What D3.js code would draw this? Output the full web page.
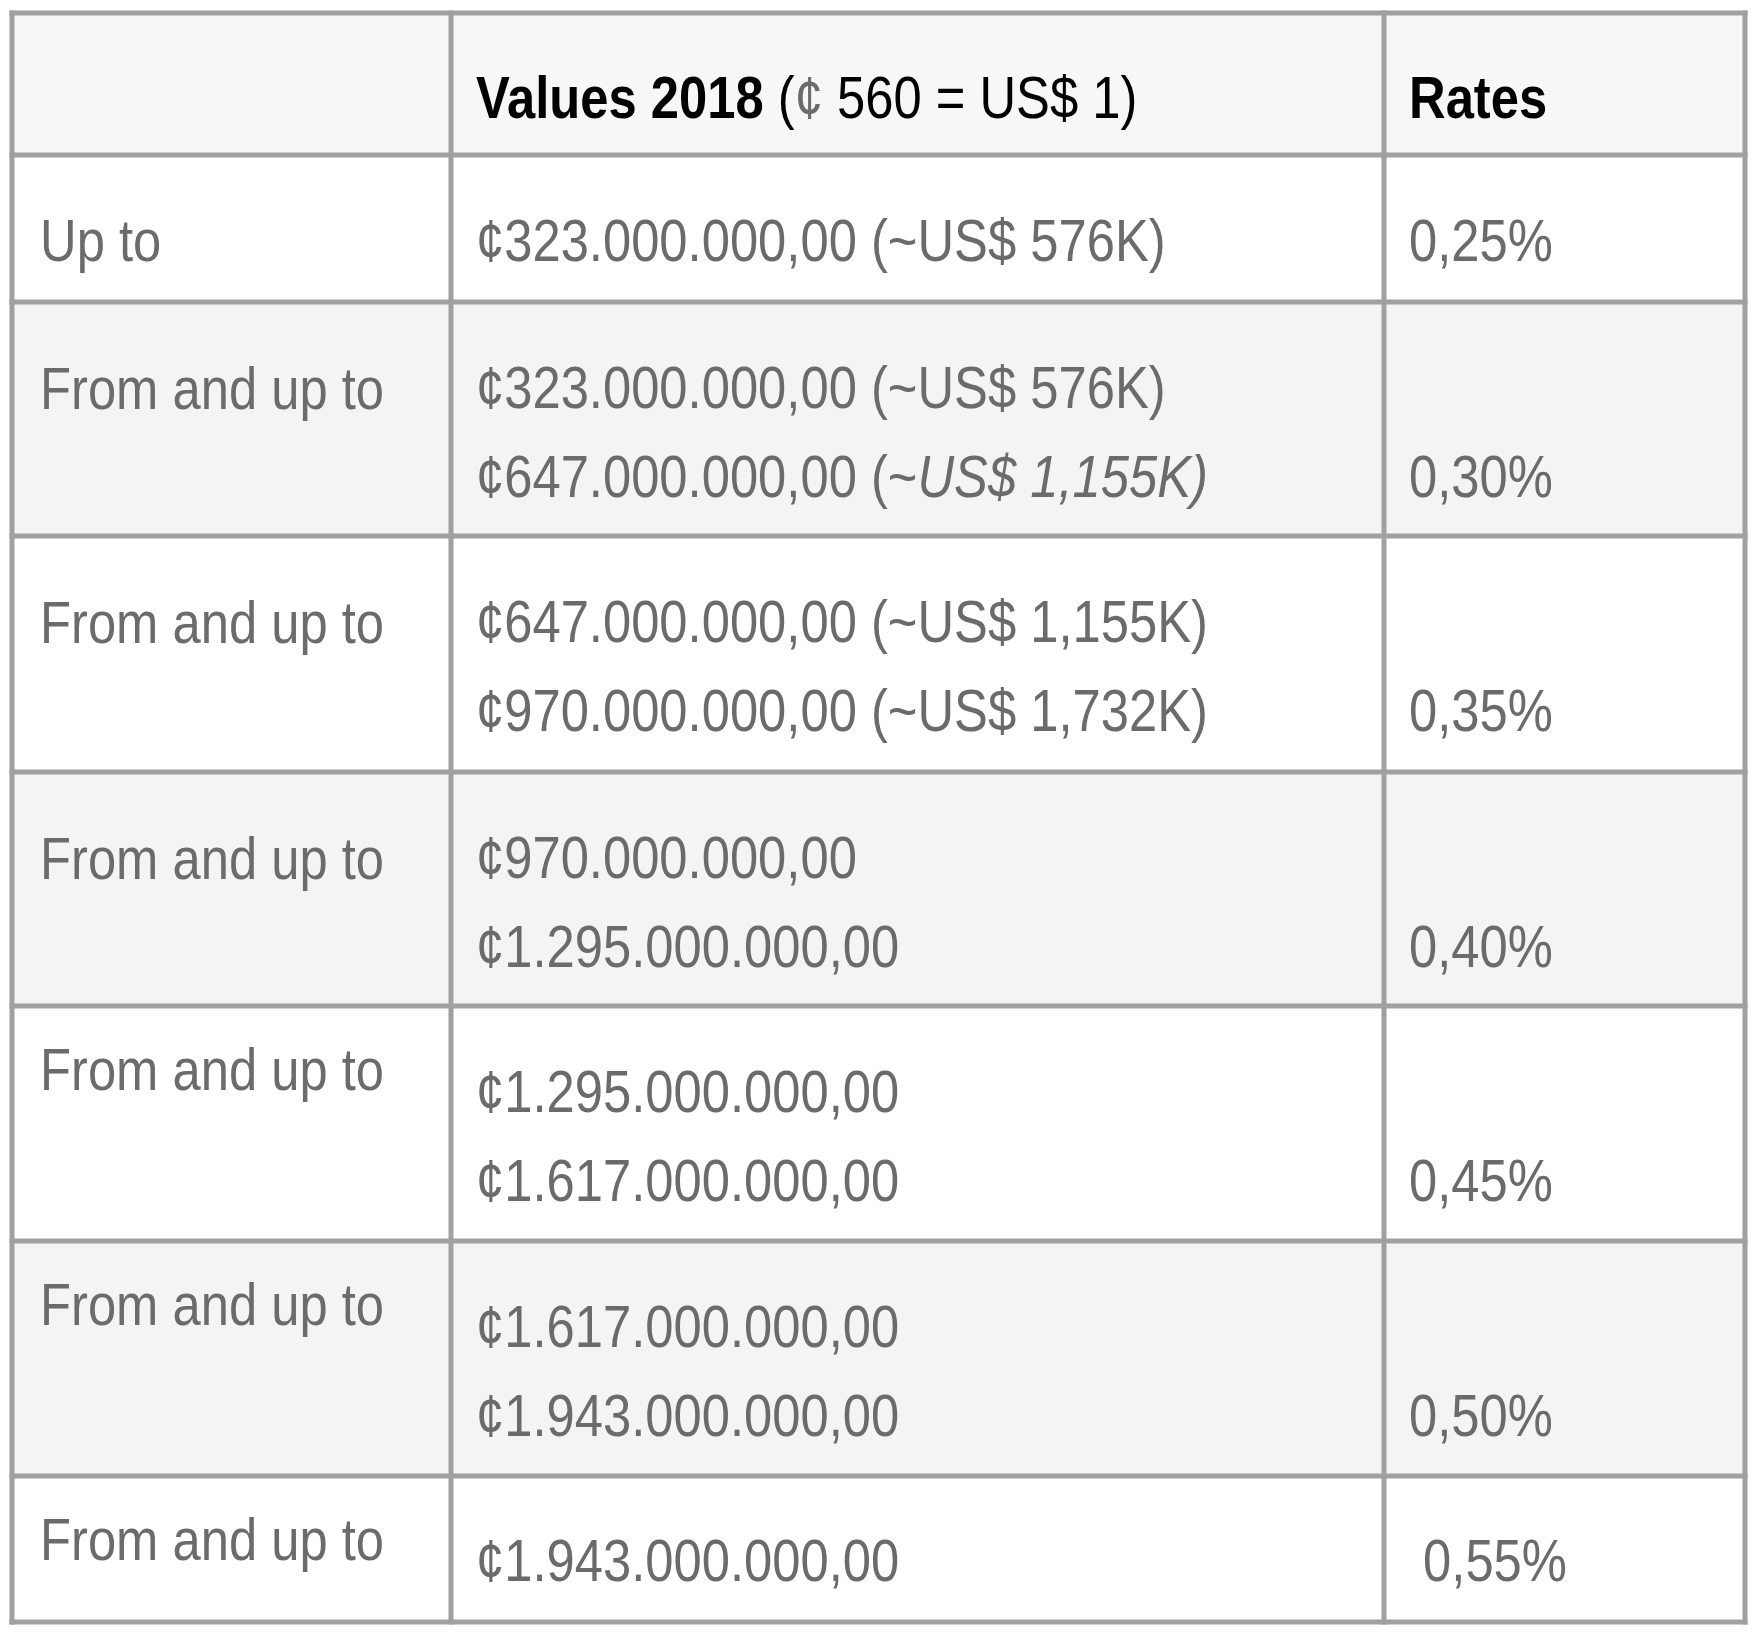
<!DOCTYPE html>
<html>
<head>
<meta charset="utf-8">
<script src="https://cdn.jsdelivr.net/npm/d3@7"></script>
<style>
  body { margin: 0; background: #fff; }
  text { font-family: "Liberation Sans Narrow", "Liberation Sans", Arial, sans-serif; }
</style>
</head>
<body>
<svg id="chart" width="1756" height="1636"></svg>
<script>
// table content
const labels = ['Up to', 'From and up to', 'From and up to', 'From and up to',
  'From and up to', 'From and up to', 'From and up to'];
const values = [
  ['¢323.000.000,00 (~US$ 576K)'],
  ['¢323.000.000,00 (~US$ 576K)', '¢647.000.000,00 (~|US$ 1,155K)'],
  ['¢647.000.000,00 (~US$ 1,155K)', '¢970.000.000,00 (~US$ 1,732K)'],
  ['¢970.000.000,00', '¢1.295.000.000,00'],
  ['¢1.295.000.000,00', '¢1.617.000.000,00'],
  ['¢1.617.000.000,00', '¢1.943.000.000,00'],
  ['¢1.943.000.000,00']
];
const rates = ['0,25%', '0,30%', '0,35%', '0,40%', '0,45%', '0,50%', ' 0,55%'];

const colEdges = [12, 451, 1384, 1745];
const rowEdges = [13, 155, 302, 536, 772, 1006, 1241, 1476, 1622];

const svg = d3.select('#chart');
const gray = '#6b6b6b';
const fs = 59;
const sx = 0.86; // squeeze text horizontally, no narrow font installed

const bg = svg.append('g');
const txt = svg.append('g').attr('transform', `scale(${sx},1)`);
const X = x => x / sx;

// backgrounds
bg.selectAll('rect').data(d3.range(8)).join('rect')
  .attr('x', colEdges[0]).attr('width', colEdges[3] - colEdges[0])
  .attr('y', i => rowEdges[i]).attr('height', i => rowEdges[i + 1] - rowEdges[i])
  .attr('fill', i => i === 0 ? '#f7f7f7' : (i % 2 === 0 ? '#f4f4f4' : '#ffffff'));

// header
const head = txt.append('text').attr('x', X(476)).attr('y', 118).attr('font-size', fs).attr('fill', '#000');
head.append('tspan').attr('font-weight', 'bold').text('Values 2018');
head.append('tspan').text(' (');
head.append('tspan').attr('fill', gray).text('¢');
head.append('tspan').text(' 560 = US$ 1)');
txt.append('text').attr('x', X(1409)).attr('y', 118).attr('font-size', fs)
  .attr('font-weight', 'bold').attr('fill', '#000').text('Rates');

// body rows
labels.forEach((lab, i) => {
  const top = rowEdges[i + 1];
  const last = i === labels.length - 1;
  const labelY = top + (i === 0 ? 106 : (i >= 4 ? 84 : 107));
  txt.append('text').attr('x', X(40)).attr('y', labelY).attr('font-size', fs)
    .attr('fill', gray).text(lab);
  const firstY = top + 106;
  values[i].forEach((v, j) => {
    const y = last ? top + 105 : firstY + j * 89;
    const t = txt.append('text').attr('x', X(476)).attr('y', y).attr('font-size', fs).attr('fill', gray);
    const parts = v.split('|');
    t.append('tspan').text(parts[0]);
    if (parts[1]) t.append('tspan').attr('font-style', 'italic').text(parts[1]);
  });
  const rateY = i === 0 ? top + 106 : (last ? top + 105 : firstY + 89);
  txt.append('text').attr('x', X(1409)).attr('y', rateY).attr('font-size', fs)
    .attr('fill', gray).style('white-space', 'pre').text(rates[i]);
});

// grid lines
svg.selectAll('line.h').data(rowEdges).join('line').attr('class', 'h')
  .attr('x1', colEdges[0] - 2.5).attr('x2', colEdges[3] + 2.5)
  .attr('y1', d => d).attr('y2', d => d)
  .attr('stroke', '#a0a0a0').attr('stroke-width', 5);
svg.selectAll('line.v').data(colEdges).join('line').attr('class', 'v')
  .attr('y1', rowEdges[0] - 2.5).attr('y2', rowEdges[8] + 2.5)
  .attr('x1', d => d).attr('x2', d => d)
  .attr('stroke', '#a0a0a0').attr('stroke-width', 5);
</script>
</body>
</html>
